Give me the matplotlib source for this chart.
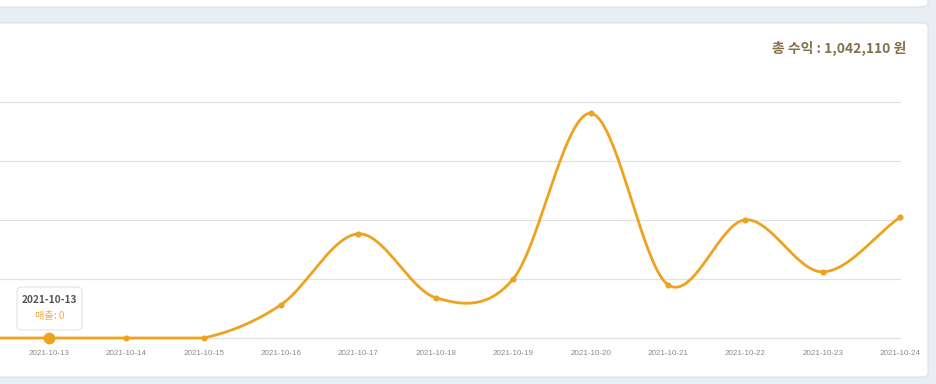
import numpy as np
import matplotlib
matplotlib.use("Agg")
import matplotlib.pyplot as plt
from matplotlib.patches import FancyBboxPatch

# ---- data ----
dates = ["2021-10-12", "2021-10-13", "2021-10-14", "2021-10-15", "2021-10-16",
         "2021-10-17", "2021-10-18", "2021-10-19", "2021-10-20", "2021-10-21",
         "2021-10-22", "2021-10-23", "2021-10-24"]
sales = [0, 0, 0, 0, 42300, 132400, 51200, 75000, 285600, 67800, 150200, 84100, 153510]
y_ticks = [0, 75000, 150000, 225000, 300000]
total_label = "총 수익 : 1,042,110 원"
tooltip_date = "2021-10-13"
tooltip_value = "매출: 0"
hover_index = 1
first_visible = 1

W, H = 936, 384
fig = plt.figure(figsize=(W / 100, H / 100), dpi=100)
fig.patch.set_facecolor("#eaedf1")

def fx(px):
    return px / W

def fy(py):
    return 1 - py / H

# card backgrounds
top_card = FancyBboxPatch((fx(-20), fy(7)), fx(948), fy(-20) - fy(7),
                          boxstyle="round,pad=0,rounding_size=0.01",
                          transform=fig.transFigure, facecolor="white",
                          edgecolor="#dde1e6", linewidth=0.8, zorder=-2)
fig.patches.append(top_card)
main_card = FancyBboxPatch((fx(-20), fy(377)), fx(948), fy(23) - fy(377),
                           boxstyle="round,pad=0,rounding_size=0.008",
                           transform=fig.transFigure, facecolor="white",
                           edgecolor="#dde1e6", linewidth=0.8, zorder=-2)
fig.patches.append(main_card)

# axes: x from px 0 to 900, y from px 90 to 338
ax_left, ax_right = 0, 900
ax_top, ax_bottom = 90, 338
ax = fig.add_axes([fx(ax_left), fy(ax_bottom), fx(ax_right - ax_left), fy(ax_top) - fy(ax_bottom)])
ax.set_facecolor("none")
ax.set_zorder(1)

x = np.arange(len(dates), dtype=float)
y = np.array(sales, dtype=float)

step = 77.5
x0 = 1 - 49 / step
x1 = x0 + (ax_right - ax_left) / step
ax.set_xlim(x0, x1)
ymax = 300000 * (ax_bottom - ax_top) / (338 - 102)
ax.set_ylim(0, ymax)

# Catmull-Rom spline through the points
def catmull(xs, ys, n=40):
    px_, py_ = [], []
    N = len(xs)
    for i in range(N - 1):
        p0 = ys[i - 1] if i > 0 else ys[i]
        p3 = ys[i + 2] if i + 2 < N else ys[i + 1]
        p1, p2 = ys[i], ys[i + 1]
        m1 = (p2 - p0) / 2 if i > 0 else (p2 - p1)
        m2 = (p3 - p1) / 2 if i + 2 < N else (p2 - p1)
        t = np.linspace(0, 1, n, endpoint=False)
        h00 = 2 * t**3 - 3 * t**2 + 1
        h10 = t**3 - 2 * t**2 + t
        h01 = -2 * t**3 + 3 * t**2
        h11 = t**3 - t**2
        px_.append(xs[i] + t * (xs[i + 1] - xs[i]))
        py_.append(h00 * p1 + h10 * m1 + h01 * p2 + h11 * m2)
    px_.append([xs[-1]])
    py_.append([ys[-1]])
    return np.concatenate(px_), np.maximum(np.concatenate(py_), 0)

sx, sy = catmull(x, y)
line_color = "#eea21f"
ax.plot(sx, sy, color=line_color, linewidth=2.0, clip_on=False, zorder=3,
        solid_capstyle="round")
ax.plot(x, y, "o", color=line_color, markersize=4.4, markeredgewidth=0,
        clip_on=False, zorder=4)
ax.plot([x[hover_index]], [y[hover_index]], "o", color=line_color,
        markersize=8.5, markeredgewidth=0, clip_on=False, zorder=5)

# grid
ax.set_yticks(y_ticks)
ax.set_yticklabels([])
ax.tick_params(axis="y", length=0)
for v in y_ticks:
    ax.axhline(v, color="#e2e2e2", linewidth=0.9, zorder=1, clip_on=False)
for s in ax.spines.values():
    s.set_visible(False)

ax.set_xticks(x[first_visible:])
ax.set_xticklabels(dates[first_visible:], fontsize=5.8, color="#8a8a8a",
                   family="Liberation Sans")
ax.tick_params(axis="x", length=0, pad=8.5)

# total label
fig.text(fx(906), fy(48), total_label, ha="right", va="center", fontsize=10,
         fontweight="bold", color="#86704c",
         family=["Noto Sans CJK KR", "DejaVu Sans"])

# tooltip
tip = FancyBboxPatch((fx(17), fy(330)), fx(65), fy(287) - fy(330),
                     boxstyle="round,pad=0,rounding_size=0.008",
                     transform=fig.transFigure, facecolor="white",
                     edgecolor="#e4e4e4", linewidth=0.8, zorder=10)
fig.patches.append(tip)
fig.text(fx(49.5), fy(300), tooltip_date, ha="center", va="center", fontsize=7.3,
         fontweight="bold", color="#555555", family=["Noto Sans CJK KR", "DejaVu Sans"],
         zorder=11)
fig.text(fx(49.5), fy(316.5), tooltip_value, ha="center", va="center", fontsize=7.3,
         color="#f0a84a", family=["Noto Sans CJK KR", "DejaVu Sans"], zorder=11)

fig.savefig("out.png", dpi=100, facecolor=fig.get_facecolor())
